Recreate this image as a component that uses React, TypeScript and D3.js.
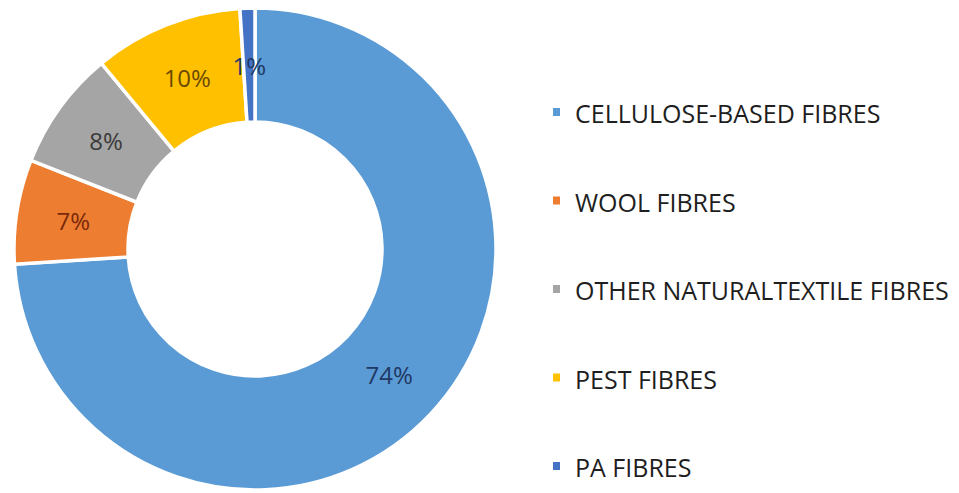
import React from "react";
import * as d3 from "d3";

const categories = [
  "CELLULOSE-BASED FIBRES",
  "WOOL FIBRES",
  "OTHER NATURALTEXTILE FIBRES",
  "PEST FIBRES",
  "PA FIBRES",
];
const values = [74, 7, 8, 10, 1];
const colors = ["#5B9BD5", "#ED7D31", "#A5A5A5", "#FFC000", "#4472C4"];
const labelColors = ["#1F3864", "#7A2A0A", "#3A3A3A", "#6B4A00", "#1F3864"];

const W = 959;
const H = 493;

export default function App() {
  const cx = 255, cy = 249, R = 241, r0 = 127;
  const pie = d3.pie<number>().sort(null).value((d) => d)(values);
  const arc = d3.arc<d3.PieArcDatum<number>>().innerRadius(r0).outerRadius(R);
  const labelArc = d3.arc<d3.PieArcDatum<number>>().innerRadius(184).outerRadius(184);
  const legendY = d3.scalePoint<string>().domain(categories).range([112, 466]);
  return (
    <svg width={W} height={H} style={{ position: "absolute", left: 0, top: 0, background: "#fff" }}>
      <g transform={`translate(${cx},${cy})`}>
        {pie.map((p, i) => (
          <path key={i} d={arc(p) || ""} fill={colors[i]} stroke="#fff" strokeWidth={3.5} />
        ))}
        {pie.map((p, i) => {
          const [x, y] = labelArc.centroid(p);
          return (
            <text key={i} x={x} y={y} textAnchor="middle" dominantBaseline="central"
              fontFamily="Open Sans" fontSize={24} fill={labelColors[i]}>
              {values[i]}%
            </text>
          );
        })}
      </g>
      {categories.map((c, i) => (
        <g key={c} transform={`translate(0,${legendY(c)})`}>
          <rect x={553} y={-4} width={7} height={8} fill={colors[i]} />
          <text x={575} y={1} dominantBaseline="central" fontFamily="Open Sans" fontSize={25} fill="#1E1E1E">
            {c}
          </text>
        </g>
      ))}
    </svg>
  );
}
